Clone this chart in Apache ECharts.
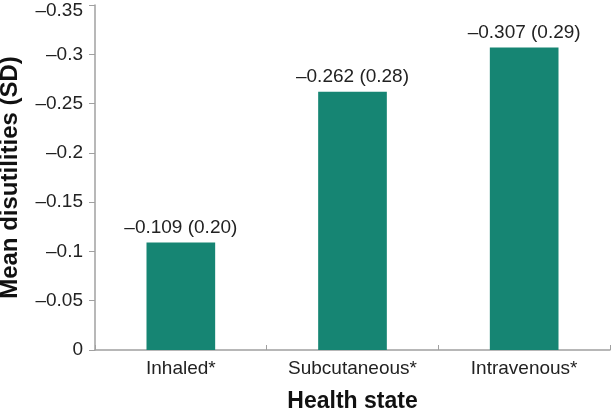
<!DOCTYPE html>
<html><head><meta charset="utf-8">
<script src="https://cdn.jsdelivr.net/npm/echarts@6/dist/echarts.min.js"></script>
<style>html,body{margin:0;padding:0;background:#fff}#c{width:611px;height:411px}</style>
</head><body><div id="c"></div>
<script>
var categories = ['Inhaled*', 'Subcutaneous*', 'Intravenous*'];
var meanValues = [-0.109, -0.262, -0.307];
var sdValues = ['0.20', '0.28', '0.29'];
var yTicks = [0, -0.05, -0.1, -0.15, -0.2, -0.25, -0.3, -0.35];

function fmt(v) {
  if (v === 0) return '0';
  var s = String(Math.abs(Math.round(v * 1000) / 1000));
  return (v < 0 ? '\u2013' : '') + s;
}

var chart = echarts.init(document.getElementById('c'));
chart.setOption({
  animation: false,
  textStyle: { fontFamily: 'Liberation Sans, Arial, sans-serif' },
  grid: { left: 95, right: 1, top: 5, bottom: 61, containLabel: false, outerBoundsMode: 'none' },
  xAxis: {
    type: 'category',
    data: categories,
    name: 'Health state',
    nameLocation: 'middle',
    nameGap: 40,
    nameTextStyle: { fontSize: 23, fontWeight: 'bold', color: '#111' },
    axisLine: { lineStyle: { color: '#a0a0a0', width: 1.5 } },
    axisTick: { show: true, inside: true, length: 5, lineStyle: { color: '#a0a0a0' } },
    axisLabel: { fontSize: 19, color: '#222', margin: 9, interval: 0, hideOverlap: false }
  },
  yAxis: {
    type: 'value',
    inverse: true,
    min: -0.35,
    max: 0,
    interval: 0.05,
    name: 'Mean disutilities (SD)',
    nameLocation: 'middle',
    nameGap: 73,
    nameTextStyle: { fontSize: 24, fontWeight: 'bold', color: '#111' },
    axisLine: { show: true, lineStyle: { color: '#a0a0a0', width: 1.5 } },
    axisTick: { show: true, length: 6, lineStyle: { color: '#a0a0a0' } },
    splitLine: { show: false },
    axisLabel: {
      fontSize: 19, color: '#222', margin: 12,
      formatter: function (v) {
        var t = fmt(v);
        return Math.abs(v - yTicks[yTicks.length - 1]) < 1e-9 ? '{t|' + t + '}' : t;
      },
      rich: { t: { fontSize: 19, color: '#222', lineHeight: 30, verticalAlign: 'bottom' } }
    }
  },
  series: [{
    type: 'bar',
    data: meanValues,
    barWidth: '40%',
    itemStyle: { color: '#168573' },
    label: {
      show: true,
      position: 'top',
      distance: 5,
      fontSize: 19,
      color: '#222',
      formatter: function (p) { return fmt(p.value) + ' (' + sdValues[p.dataIndex] + ')'; }
    }
  }]
});
</script></body></html>
